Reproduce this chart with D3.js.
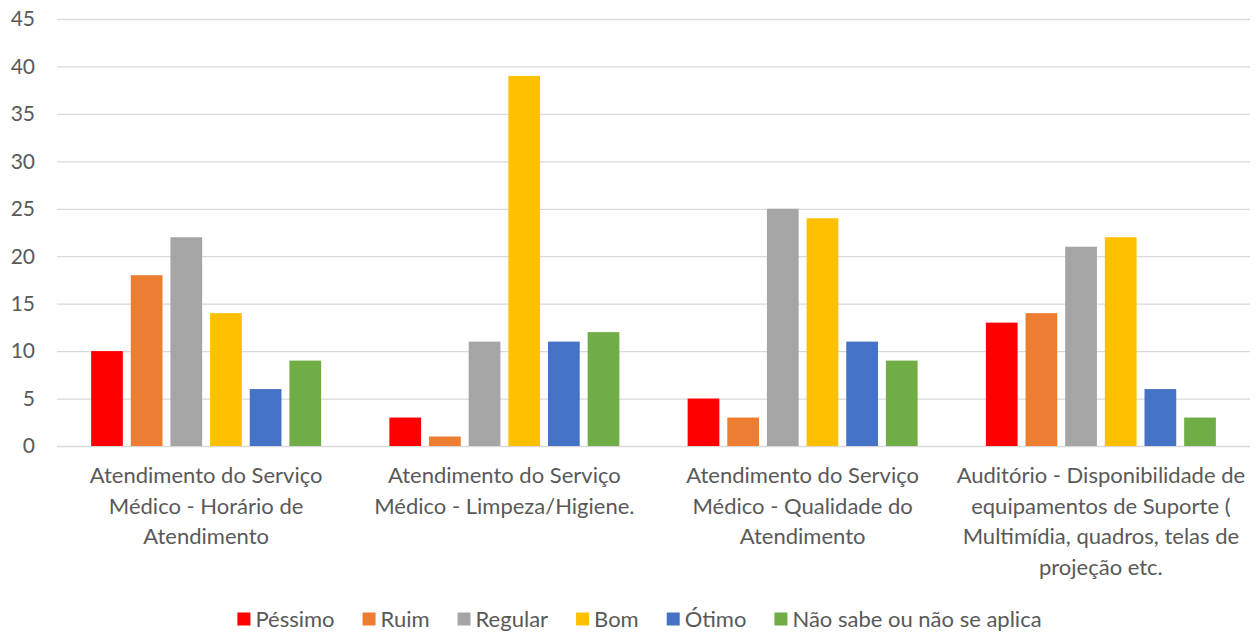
<!DOCTYPE html>
<html>
<head>
<meta charset="utf-8">
<script src="https://cdn.jsdelivr.net/npm/d3@7"></script>
<style>
  body { margin: 0; background: #fff; }
  svg { font-family: Lato, "Open Sans", sans-serif; }
  .grid line { stroke: #d9d9d9; stroke-width: 1.3; }
  .grid path { display: none; }
</style>
</head>
<body>
<svg width="1256" height="633"></svg>
<script>
// category labels, already broken into lines as in the picture
const categories = [
  ['Atendimento do Serviço', 'Médico - Horário de', 'Atendimento'],
  ['Atendimento do Serviço', 'Médico - Limpeza/Higiene.'],
  ['Atendimento do Serviço', 'Médico - Qualidade do', 'Atendimento'],
  ['Auditório - Disponibilidade de', 'equipamentos de Suporte (', 'Multimídia, quadros, telas de', 'projeção etc.']
];
const seriesNames = ['Péssimo', 'Ruim', 'Regular', 'Bom', 'Ótimo', 'Não sabe ou não se aplica'];
const seriesColors = ['#FF0000', '#ED7D31', '#A5A5A5', '#FFC000', '#4472C4', '#70AD47'];
const pessimo = [10, 3, 5, 13];
const ruim = [18, 1, 3, 14];
const regular = [22, 11, 25, 21];
const bom = [14, 39, 24, 22];
const otimo = [6, 11, 11, 6];
const naoSabe = [9, 12, 9, 3];
const yTicks = [0, 5, 10, 15, 20, 25, 30, 35, 40, 45];

const allSeries = [pessimo, ruim, regular, bom, otimo, naoSabe];

const svg = d3.select('svg');
const plotLeft = 57, plotRight = 1250, plotTop = 19, plotBottom = 446;
const groupW = 230;

const x0 = d3.scaleBand()
  .domain(d3.range(categories.length))
  .range([plotLeft, plotRight]);

const x1 = d3.scaleBand()
  .domain(d3.range(seriesNames.length))
  .range([0, groupW])
  .paddingInner(0.2);

const y = d3.scaleLinear()
  .domain([0, 45])
  .range([plotBottom, plotTop]);

// gridlines
svg.append('g')
  .attr('class', 'grid')
  .attr('transform', `translate(${plotLeft},0)`)
  .call(d3.axisLeft(y).tickValues(yTicks).tickSize(-(plotRight - plotLeft)).tickFormat(''));

// y labels
svg.append('g')
  .selectAll('text')
  .data(yTicks)
  .enter()
  .append('text')
  .attr('x', 35)
  .attr('y', d => y(d))
  .attr('dy', '0.35em')
  .attr('text-anchor', 'end')
  .attr('font-size', 21)
  .attr('fill', '#595959')
  .text(d => d);

// bars
const groups = svg.selectAll('.grp')
  .data(categories)
  .enter()
  .append('g')
  .attr('class', 'grp')
  .attr('transform', (d, i) => `translate(${x0(i) + x0.bandwidth() / 2 - groupW / 2},0)`);

groups.selectAll('rect')
  .data((d, i) => allSeries.map((s, j) => ({ s: j, v: s[i] })))
  .enter()
  .append('rect')
  .attr('x', d => x1(d.s))
  .attr('y', d => y(d.v))
  .attr('width', x1.bandwidth())
  .attr('height', d => y(0) - y(d.v))
  .attr('fill', d => seriesColors[d.s]);

// category labels
const catLabels = svg.append('g')
  .selectAll('text')
  .data(categories)
  .enter()
  .append('text')
  .attr('text-anchor', 'middle')
  .attr('font-size', 22)
  .attr('fill', '#595959')
  .attr('x', (d, i) => x0(i) + x0.bandwidth() / 2)
  .attr('y', 483);

catLabels.selectAll('tspan')
  .data((d, i) => d.map(l => ({ l, i })))
  .enter()
  .append('tspan')
  .attr('x', d => x0(d.i) + x0.bandwidth() / 2)
  .attr('dy', (d, k) => k === 0 ? 0 : 30.5)
  .text(d => d.l);

// legend, laid out from measured text widths and centred
const legend = svg.append('g');
const items = legend.selectAll('g')
  .data(seriesNames)
  .enter()
  .append('g');

items.append('rect')
  .attr('y', -6.5)
  .attr('width', 13)
  .attr('height', 13)
  .attr('fill', (d, i) => seriesColors[i]);

items.append('text')
  .attr('x', 18)
  .attr('dy', '0.35em')
  .attr('font-size', 22)
  .attr('fill', '#595959')
  .text(d => d);

let lx = 0;
items.each(function () {
  const w = d3.select(this).select('text').node().getComputedTextLength();
  d3.select(this).attr('transform', `translate(${lx},0)`);
  lx += 18 + w + 28;
});
lx -= 28;
legend.attr('transform', `translate(${(plotLeft + plotRight) / 2 - lx / 2 - 14},619)`);
</script>
</body>
</html>
